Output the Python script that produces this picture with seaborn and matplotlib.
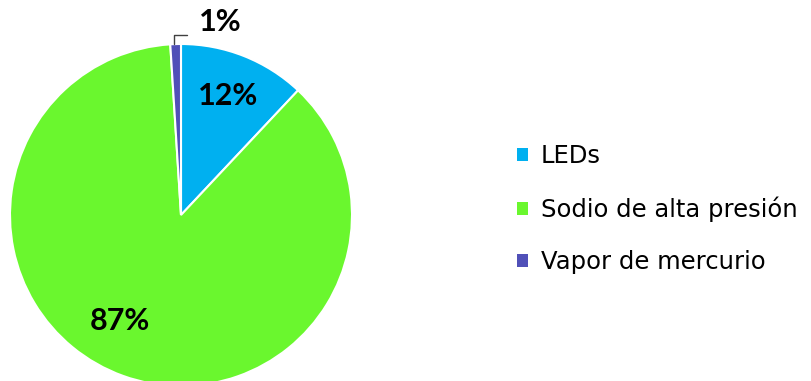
import matplotlib
matplotlib.use("Agg")
import matplotlib.pyplot as plt
import seaborn as sns

# datos (porcentaje de luminarias por tecnologia)
categorias = ["LEDs", "Sodio de alta presión", "Vapor de mercurio"]
valores = [12.0, 87.0, 1.0]
colores = ["#00B0F0", "#6AF72E", "#5050B8"]

sns.set_style("white")
plt.rcParams["font.family"] = ["Lato", "DejaVu Sans"]
plt.rcParams["text.color"] = "black"

fig = plt.figure(figsize=(8.12, 3.81), dpi=100)
ax = fig.add_axes([10 / 812, (381 - 215 - 171) / 381, 342 / 812, 342 / 381])

wedges, texts, autotexts = ax.pie(
    valores, colors=colores, startangle=90, counterclock=False,
    autopct="%.0f%%", pctdistance=0.75,
    wedgeprops=dict(edgecolor="white", linewidth=1.5),
    textprops=dict(fontsize=22, fontweight="bold", color="black"),
)
ax.set_xlim(-1, 1)
ax.set_ylim(-1, 1)
ax.set_aspect("equal")
for w in wedges:
    w.set_clip_on(False)

# posiciones de las etiquetas como en el original
autotexts[1].set_position((-0.36, -0.62))
autotexts[2].set_position((0.23, 1.13))
for t in autotexts:
    t.set_clip_on(False)

# linea guia del 1%
ax.plot([-0.04, -0.04, 0.035], [1.0, 1.05, 1.05], color="#404040", lw=1, clip_on=False)

leg = fig.legend(
    wedges, categorias, loc="center left", bbox_to_anchor=(507 / 812, 1 - 209 / 381),
    frameon=False, handlelength=0.45, handleheight=0.45,
    handletextpad=0.55, labelspacing=1.15, borderaxespad=0,
    prop=dict(family="DejaVu Sans", size=17.5),
)
for h in leg.legend_handles:
    h.set_edgecolor("none")
for t in leg.get_texts():
    t.set_color("black")

fig.savefig("out.png", dpi=100)
